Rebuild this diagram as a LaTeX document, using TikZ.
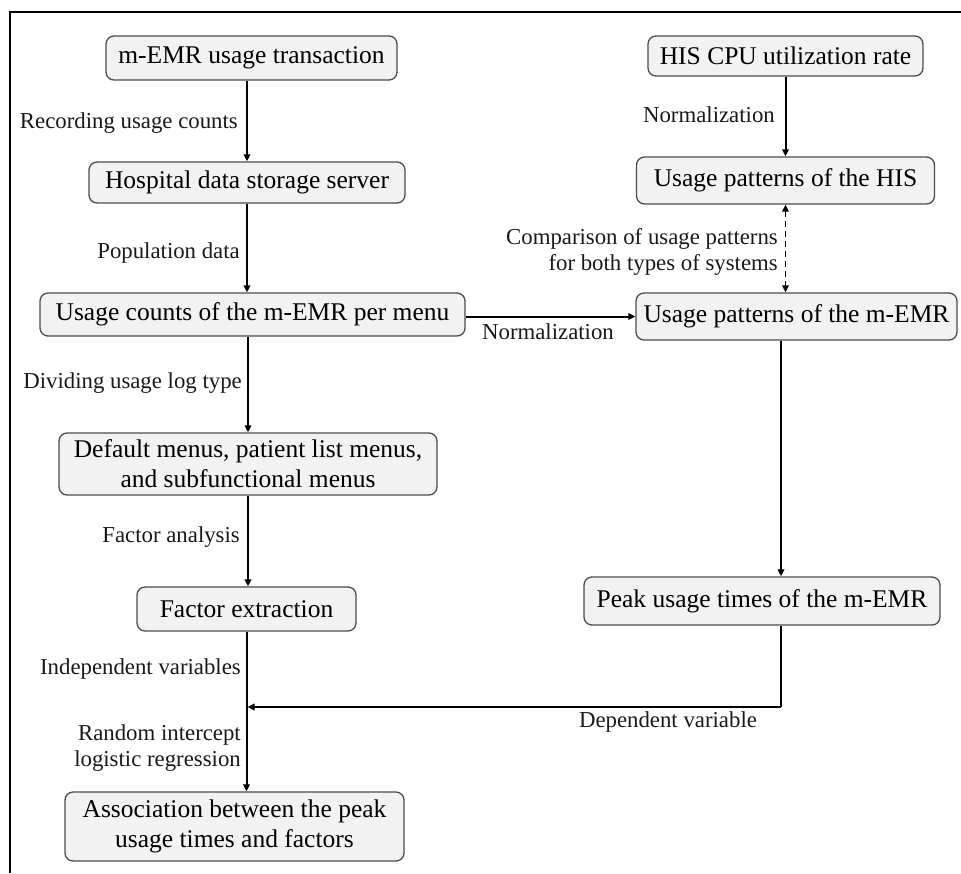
\documentclass[tikz,border=0pt]{standalone}
\usepackage{fontspec}
\setmainfont{Liberation Serif}
\usetikzlibrary{arrows.meta}
\begin{document}
\begin{tikzpicture}[x=1pt,y=1pt,
  box/.style={draw=black!70, line width=1.3pt, fill=black!5, rounded corners=8pt,
    inner sep=0pt, align=center, text=black,
    font=\fontsize{25.5}{30}\selectfont},
  lbl/.style={inner sep=0pt, align=right, text=black!90,
    font=\fontsize{22.8}{25.5}\selectfont},
  arr/.style={line width=2pt, -{Triangle[length=7pt,width=6.5pt]}},
  plain/.style={line width=2pt},
  dasharr/.style={line width=1.8pt, dash pattern=on 6pt off 4pt,
    {Triangle[length=7pt,width=6.5pt]}-{Triangle[length=7pt,width=6.5pt]}}]
\useasboundingbox (0,0) rectangle (961,-873);
% frame
\draw[line width=1.3pt] (10,-873) -- (10,-12) -- (961,-12);

% left column
\node[box, minimum width=291pt, minimum height=44pt] (A) at (251.5,-58) {m-EMR usage transaction};
\node[box, minimum width=316pt, minimum height=41pt] (B) at (247,-182.5) {Hospital data storage server};
\node[box, minimum width=425pt, minimum height=43pt] (C) at (252.5,-314.5) {Usage counts of the m-EMR per menu};
\node[box, minimum width=378pt, minimum height=62pt] (D) at (248,-464) {Default menus, patient list menus,\\and subfunctional menus};
\node[box, minimum width=219pt, minimum height=44pt] (E) at (246.5,-609) {Factor extraction};
\node[box, minimum width=339pt, minimum height=69pt] (F) at (234.5,-826.5) {Association between the peak\\usage times and factors};

% right column
\node[box, minimum width=275pt, minimum height=40pt] (G) at (785.5,-56) {HIS CPU utilization rate};
\node[box, minimum width=298pt, minimum height=47pt] (H) at (785.5,-180.5) {Usage patterns of the HIS};
\node[box, minimum width=321pt, minimum height=47pt] (I) at (796.5,-316.5) {Usage patterns of the m-EMR};
\node[box, minimum width=356pt, minimum height=48pt] (J) at (762,-601) {Peak usage times of the m-EMR};

\coordinate (jn) at (246.5,-707);
\coordinate (jx) at (781,-450);

% connectors
\draw[arr] (A.south -| B.north) -- (B.north);
\draw[arr] (B.south) -- (B.south |- C.north);
\draw[arr] (C.south -| D.north) -- (D.north);
\draw[arr] (D.south) -- (D.south |- E.north);
\draw[arr] (E.south) -- (E.south |- F.north);
\draw[arr] (G.south) -- (G.south |- H.north);
\draw[dasharr] (H.south) -- (H.south |- I.north);
\draw[arr] (I.west -| C.east) -- (I.west);
\draw[arr] (I.south -| jx) -- (J.north -| jx);
\draw[plain] (J.south -| jx) -- (jx |- jn);
\draw[arr] (jx |- jn) -- ([xshift=1pt]jn);

% labels
\node[lbl, anchor=east] (l1) at (238,-123) {Recording usage counts};
\node[lbl, anchor=east] (l2) at (240,-253) {Population data};
\node[lbl, anchor=east] (l3) at (242,-383) {Dividing usage log type};
\node[lbl, anchor=east] (l4) at (240,-537) {Factor analysis};
\node[lbl, anchor=east] (l5) at (241,-669) {Independent variables};
\node[lbl, anchor=east] (l6) at (241,-748) {Random intercept\\logistic regression};
\node[lbl, anchor=east] (l7) at (775,-115) {Normalization};
\node[lbl, anchor=east] (l8) at (778,-252) {Comparison of usage patterns\\for both types of systems};
\node[lbl] (l9) at (548,-332) {Normalization};
\node[lbl] (l10) at (668,-722) {Dependent variable};
\end{tikzpicture}
\end{document}
